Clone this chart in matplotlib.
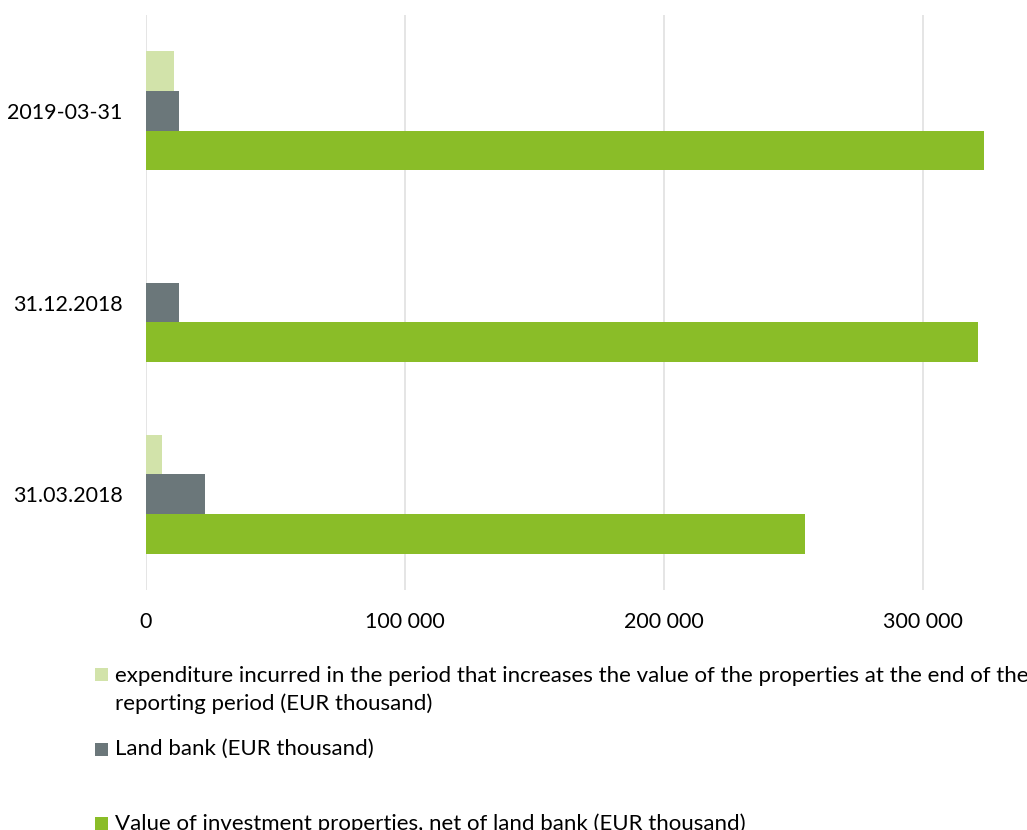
import matplotlib
matplotlib.use("Agg")
import matplotlib.pyplot as plt
from matplotlib.patches import Rectangle
import numpy as np

categories = ["31.03.2018", "31.12.2018", "2019-03-31"]
expenditure = [6200, 0, 10800]
land_bank = [22700, 12600, 12600]
investment = [254200, 321200, 323300]
series_labels = [
    "expenditure incurred in the period that increases the value of the properties at the end of the\nreporting period (EUR thousand)",
    "Land bank (EUR thousand)",
    "Value of investment properties, net of land bank (EUR thousand)",
]
colors = ["#d2e3aa", "#6b777a", "#8abd28"]
xticks = [0, 100000, 200000, 300000]
xtick_labels = ["0", "100 000", "200 000", "300 000"]

plt.rcParams['font.family'] = ['Lato', 'DejaVu Sans']

W, H = 1027, 830
fig = plt.figure(figsize=(W / 100, H / 100), dpi=100)
ax = fig.add_axes([146 / W, 1 - 590 / H, (1027 - 146) / W, (590 - 15) / H])

y = np.arange(len(categories))
h = 0.207
ax.barh(y + h, expenditure, height=h, color=colors[0], zorder=3)
ax.barh(y, land_bank, height=h, color=colors[1], zorder=3)
ax.barh(y - h, investment, height=h, color=colors[2], zorder=3)

ax.set_xlim(0, 340000)
ax.set_ylim(-0.5, 2.5)
ax.set_yticks(y)
ax.set_yticklabels(categories, fontsize=15.5)
ax.set_xticks(xticks)
ax.set_xticklabels(xtick_labels, fontsize=15.5)
ax.tick_params(axis='both', length=0, colors='#000000')
ax.tick_params(axis='y', pad=17)
ax.tick_params(axis='x', pad=16)
for s in ax.spines.values():
    s.set_visible(False)
ax.grid(axis='x', color='#e3e3e3', linewidth=1.3, zorder=0)

# legend drawn manually (square + text)
square_centers = [674, 749, 823]
text_centers = [675, 748, 822]
for lab, col, ys, yt in zip(series_labels, colors, square_centers, text_centers):
    fig.patches.append(Rectangle((95 / W, 1 - (ys + 6.5) / H), 13 / W, 13 / H,
                                 transform=fig.transFigure, facecolor=col,
                                 edgecolor='none'))
    fig.text(115 / W, 1 - (yt - 9) / H, lab, fontsize=16, va='top', ha='left',
             linespacing=1.42, color='#000000')

fig.savefig("out.png", dpi=100)
